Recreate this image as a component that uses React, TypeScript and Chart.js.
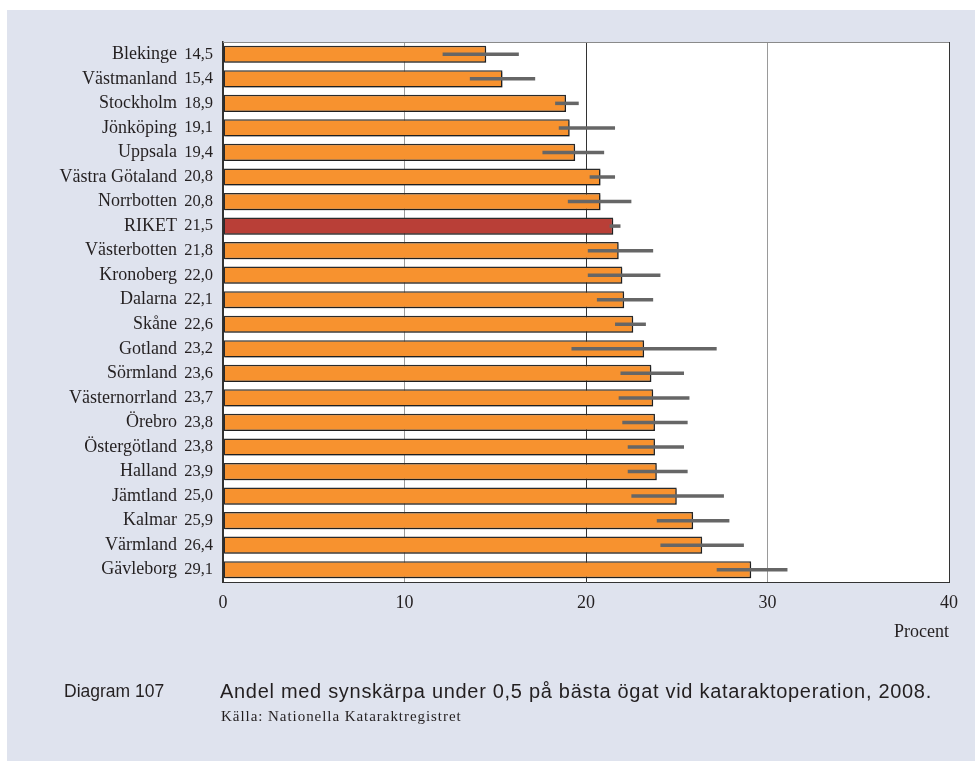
import React, { useEffect, useRef } from "react";
import { Chart, registerables } from "chart.js";

Chart.register(...registerables);

const regions: string[] = [
  "Blekinge", "Västmanland", "Stockholm", "Jönköping", "Uppsala", "Västra Götaland",
  "Norrbotten", "RIKET", "Västerbotten", "Kronoberg", "Dalarna", "Skåne", "Gotland",
  "Sörmland", "Västernorrland", "Örebro", "Östergötland", "Halland", "Jämtland",
  "Kalmar", "Värmland", "Gävleborg",
];
const values: number[] = [
  14.5, 15.4, 18.9, 19.1, 19.4, 20.8, 20.8, 21.5, 21.8, 22.0, 22.1, 22.6, 23.2,
  23.6, 23.7, 23.8, 23.8, 23.9, 25.0, 25.9, 26.4, 29.1,
];
const errLow: number[] = [
  12.1, 13.6, 18.3, 18.5, 17.6, 20.2, 19.0, 21.3, 20.1, 20.1, 20.6, 21.6, 19.2,
  21.9, 21.8, 22.0, 22.3, 22.3, 22.5, 23.9, 24.1, 27.2,
];
const errHigh: number[] = [
  16.3, 17.2, 19.6, 21.6, 21.0, 21.6, 22.5, 21.9, 23.7, 24.1, 23.7, 23.3, 27.2,
  25.4, 25.7, 25.6, 25.4, 25.6, 27.6, 27.9, 28.7, 31.1,
];
const xTicks: number[] = [0, 10, 20, 30, 40];
const highlight = "RIKET";

const fmt = (v: number) => v.toFixed(1).replace(".", ",");
const valueLabels: string[] = values.map(fmt);

const SERIF = "'Liberation Serif', 'Times New Roman', serif";
const SANS = "'Liberation Sans', Arial, sans-serif";

const framePlugin = {
  id: "frameAndErrors",
  beforeDraw(chart: any) {
    const { ctx, chartArea } = chart;
    ctx.save();
    ctx.fillStyle = "#ffffff";
    ctx.fillRect(chartArea.left, chartArea.top, chartArea.right - chartArea.left, chartArea.bottom - chartArea.top);
    ctx.restore();
  },
  beforeDatasetDraw(chart: any) {
    const ctx = chart.ctx;
    ctx.save();
    ctx.shadowColor = "rgba(0,0,0,0.28)";
    ctx.shadowOffsetX = 1.5;
    ctx.shadowOffsetY = 1.5;
    ctx.shadowBlur = 0;
  },
  afterDatasetDraw(chart: any) {
    chart.ctx.restore();
  },
  afterDatasetsDraw(chart: any) {
    const { ctx, chartArea } = chart;
    const xs = chart.scales.x;
    const ys = chart.scales.y;
    ctx.save();
    ctx.strokeStyle = "#666666";
    ctx.lineWidth = 3.5;
    ctx.lineCap = "butt";
    errLow.forEach((lo, i) => {
      const y = ys.getPixelForValue(i);
      ctx.beginPath();
      ctx.moveTo(xs.getPixelForValue(lo), y);
      ctx.lineTo(xs.getPixelForValue(errHigh[i]), y);
      ctx.stroke();
    });
    ctx.strokeStyle = "#8a8a8a";
    ctx.lineWidth = 1;
    ctx.beginPath();
    ctx.moveTo(chartArea.left, chartArea.top + 0.5);
    ctx.lineTo(chartArea.right, chartArea.top + 0.5);
    ctx.stroke();
    ctx.restore();
  },
};

export default function App() {
  const canvasRef = useRef<HTMLCanvasElement | null>(null);

  useEffect(() => {
    if (!canvasRef.current) return;
    const chart = new Chart(canvasRef.current, {
      type: "bar",
      data: {
        labels: regions,
        datasets: [
          {
            data: values,
            backgroundColor: regions.map((r) => (r === highlight ? "#b93f37" : "#f7922f")),
            borderColor: "#2b2b2b",
            borderWidth: 1.5,
            borderSkipped: false,
            barPercentage: 0.7,
            categoryPercentage: 1,
          },
        ],
      },
      options: {
        indexAxis: "y",
        animation: false,
        responsive: false,
        maintainAspectRatio: false,
        events: [],
        layout: { padding: { left: 0, right: 26, top: 42, bottom: 0 } },
        plugins: {
          legend: { display: false },
          tooltip: { enabled: false },
        },
        scales: {
          x: {
            type: "linear",
            min: 0,
            max: 40,
            afterBuildTicks: (scale: any) => {
              scale.ticks = xTicks.map((v) => ({ value: v }));
            },
            afterFit: (scale: any) => {
              scale.height = 179;
            },
            grid: {
              drawTicks: false,
              lineWidth: 1,
              color: (c: any) => {
                const v = c.tick && c.tick.value;
                if (v === 10 || v === 30) return "#9a9a9a";
                return "#333333";
              },
            },
            border: { display: true, color: "#333333", width: 1 },
            ticks: {
              padding: 10,
              color: "#231f20",
              font: { family: SERIF, size: 18 },
              callback: (v: any) => String(v),
            },
            title: {
              display: true,
              text: "Procent",
              align: "end",
              color: "#231f20",
              font: { family: SERIF, size: 18 },
              padding: { top: 0, bottom: 118 },
            },
          },
          y: {
            type: "category",
            position: "left",
            weight: 1,
            afterFit: (scale: any) => {
              scale.width = 183;
            },
            grid: { display: false, drawTicks: false },
            border: { display: false },
            ticks: {
              padding: 6,
              autoSkip: false,
              color: "#231f20",
              font: { family: SERIF, size: 18 },
            },
          },
          yv: {
            type: "category",
            position: "left",
            weight: 0,
            labels: valueLabels,
            offset: true,
            afterFit: (scale: any) => {
              scale.width = 40;
            },
            grid: { display: false, drawTicks: false },
            border: { display: true, color: "#333333", width: 1.5 },
            ticks: {
              padding: 10,
              autoSkip: false,
              color: "#231f20",
              font: { family: SERIF, size: 16.5 },
            },
          },
        },
      },
      plugins: [framePlugin],
    } as any);
    return () => chart.destroy();
  }, []);

  return (
    <div style={{ position: "fixed", left: 0, top: 0, width: 975, height: 761, background: "#ffffff", overflow: "hidden" }}>
      <div style={{ position: "absolute", left: 7, top: 10, width: 968, height: 751, background: "#dfe3ee" }} />
      <canvas ref={canvasRef} width={975} height={761} style={{ position: "absolute", left: 0, top: 0, width: 975, height: 761 }} />
      <div style={{ position: "absolute", left: 64, top: 681, fontFamily: SANS, fontSize: 17.5, color: "#231f20", whiteSpace: "nowrap" }}>
        Diagram 107
      </div>
      <div style={{ position: "absolute", left: 220, top: 680, fontFamily: SANS, fontSize: 20, letterSpacing: 0.7, color: "#231f20", whiteSpace: "nowrap" }}>
        Andel med synskärpa under 0,5 på bästa ögat vid kataraktoperation, 2008.
      </div>
      <div style={{ position: "absolute", left: 221, top: 708, fontFamily: SERIF, fontSize: 15, letterSpacing: 0.95, color: "#231f20", whiteSpace: "nowrap" }}>
        Källa: Nationella Kataraktregistret
      </div>
    </div>
  );
}
